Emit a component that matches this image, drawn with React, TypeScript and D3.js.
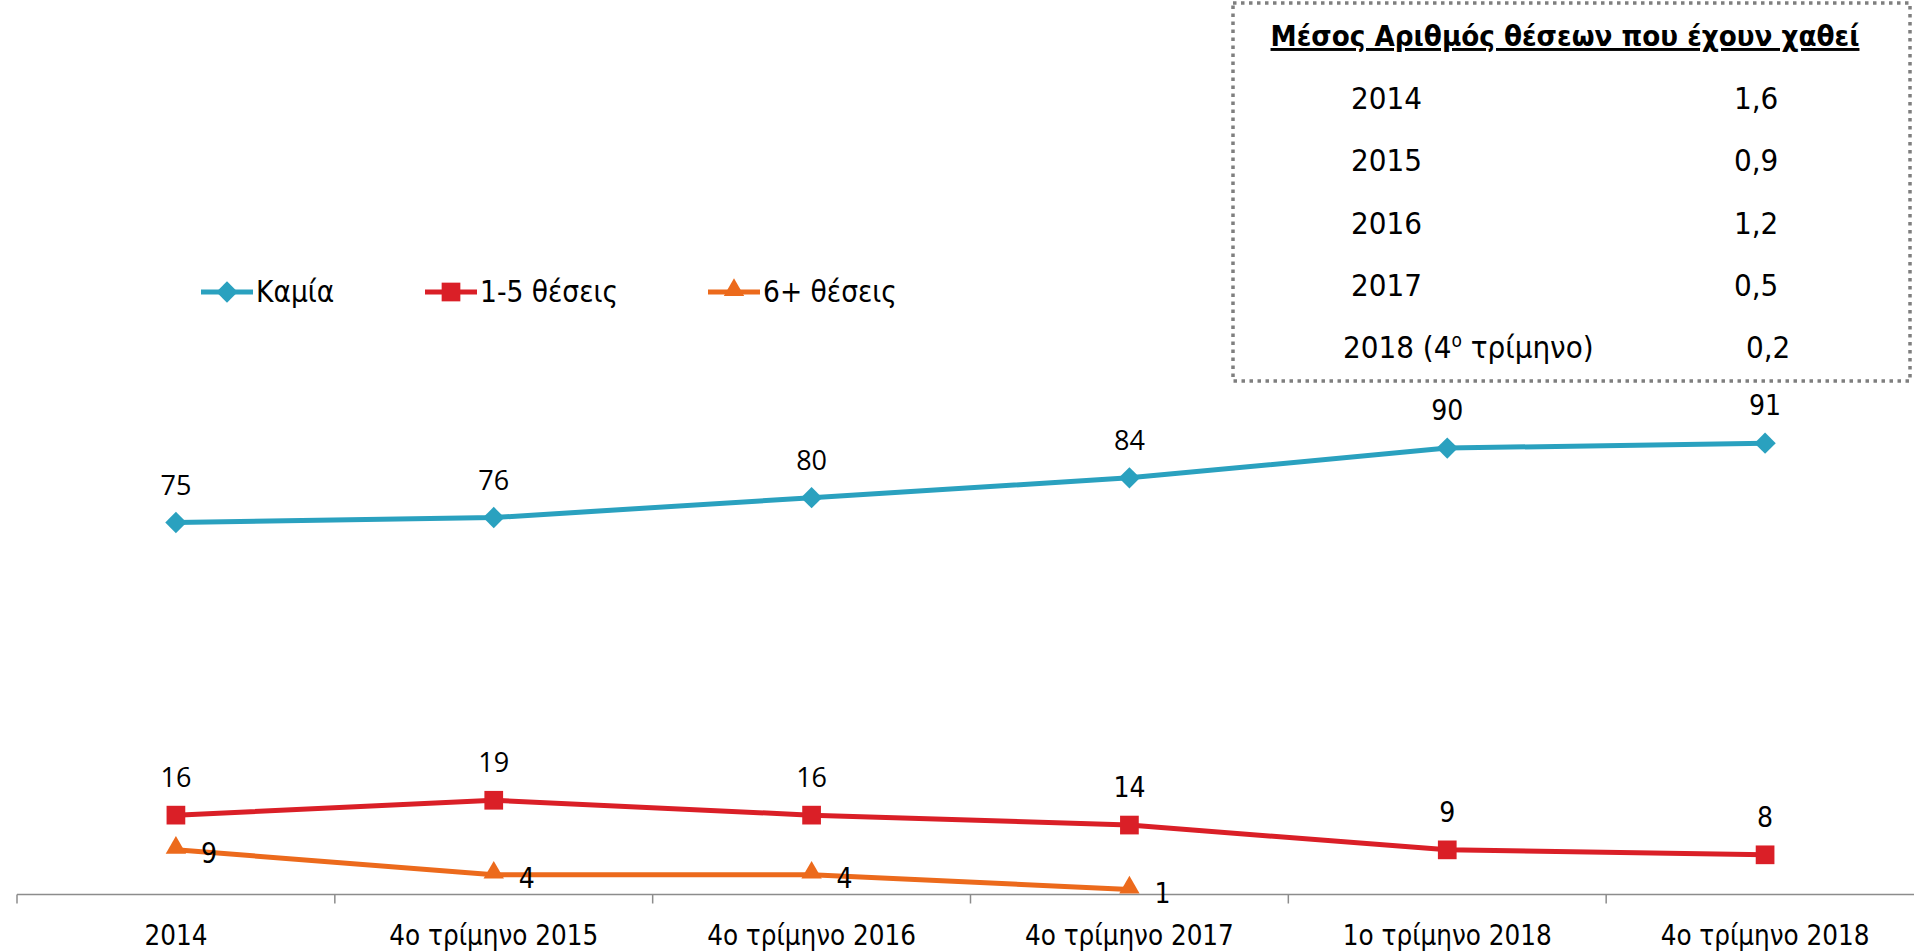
import React from "react";
import * as d3 from "d3";

// chart data
const categories = [
	"2014",
	"4ο τρίμηνο 2015",
	"4ο τρίμηνο 2016",
	"4ο τρίμηνο 2017",
	"1ο τρίμηνο 2018",
	"4ο τρίμηνο 2018",
];
const kamia = [75, 76, 80, 84, 90, 91];
const fewSeats = [16, 19, 16, 14, 9, 8];
const manySeats = [9, 4, 4, 1, null, null];

// side table
const tableTitle = "Μέσος Αριθμός θέσεων που έχουν χαθεί";
const tableYears = ["2014", "2015", "2016", "2017", "2018"];
const tableValues = ["1,6", "0,9", "1,2", "0,5", "0,2"];

const width = 1914;
const height = 951;
const narrow = "'DejaVu Sans Condensed', 'Liberation Sans Narrow', sans-serif";
const wide = "'Open Sans', 'Noto Sans', sans-serif";

const series = [
	{ name: "Καμία", values: kamia, color: "#2aa1bf", symbol: d3.symbolDiamond2, size: 290, labelPos: "top", wideLabels: 4 },
	{ name: "1-5 θέσεις", values: fewSeats, color: "#da1f27", symbol: d3.symbolSquare, size: 350, labelPos: "top", wideLabels: 3 },
	{ name: "6+ θέσεις", values: manySeats, color: "#ec6a1c", symbol: d3.symbolTriangle, size: 180, labelPos: "right", wideLabels: 0 },
];

const App = () => {
	const xScale = d3.scaleBand().domain(categories).range([17, 1924]).padding(0);
	const bw = xScale.bandwidth();
	const cx = (c) => xScale(c) + bw / 2;
	const yScale = d3.scaleLinear().domain([0, 100]).range([894.5, 398.5]);
	const y0 = yScale(0);

	const legendX = [201, 425, 708];

	return (
		<svg
			width={width}
			height={height}
			style={{ position: "absolute", left: 0, top: 0, background: "#fff" }}
		>
			{/* axis */}
			<line x1={17} x2={width} y1={y0} y2={y0} stroke="#8c8c8c" strokeWidth={1.5} />
			{d3.range(categories.length + 1).map((i) => {
				const x = 17 + i * bw;
				return <line key={i} x1={x} x2={x} y1={y0} y2={y0 + 9} stroke="#8c8c8c" strokeWidth={1.5} />;
			})}
			{categories.map((c) => (
				<text key={c} x={cx(c)} y={945} textAnchor="middle" fontFamily={narrow} fontSize={27.5} fill="#000">
					{c}
				</text>
			))}

			{/* lines */}
			{series.map((s) => {
				const pts = categories
					.map((c, i) => [cx(c), s.values[i]])
					.filter((p) => p[1] != null)
					.map(([x, v]) => [x, yScale(v)]);
				const sym = d3.symbol().type(s.symbol).size(s.size)();
				return (
					<g key={s.name}>
						<path d={d3.line()(pts)} fill="none" stroke={s.color} strokeWidth={5} />
						{pts.map(([x, y], i) => (
							<path key={i} d={sym} transform={`translate(${x},${y + (s.labelPos === "right" ? -2 : 0)})`} fill={s.color} />
						))}
						{pts.map(([x, y], i) => {
							const isWide = i < s.wideLabels;
							return s.labelPos === "top" ? (
								<text
									key={"l" + i}
									x={x}
									y={y - 28}
									textAnchor="middle"
									fontFamily={isWide ? wide : narrow}
									fontSize={isWide ? 27 : 28}
								>
									{s.values[i]}
								</text>
							) : (
								<text key={"l" + i} x={x + 25} y={y + 13} fontFamily={narrow} fontSize={28}>
									{s.values[i]}
								</text>
							);
						})}
					</g>
				);
			})}

			{/* legend */}
			{series.map((s, i) => {
				const lx = legendX[i];
				return (
					<g key={"lg" + s.name}>
						<line x1={lx} x2={lx + 52} y1={292} y2={292} stroke={s.color} strokeWidth={5} />
						<path d={d3.symbol().type(s.symbol).size(s.size)()} transform={`translate(${lx + 26},${i === 2 ? 290 : 292})`} fill={s.color} />
						<text x={lx + 55} y={302} fontFamily={narrow} fontSize={29.5}>
							{s.name}
						</text>
					</g>
				);
			})}

			{/* side table */}
			<rect x={1233} y={3} width={677} height={378} fill="#fff" stroke="#7f7f7f" strokeWidth={3.5} strokeDasharray="3.5 4.5" />
			<text x={1565} y={46} textAnchor="middle" fontFamily={narrow} fontWeight="bold" fontSize={29.2} textDecoration="underline">
				{tableTitle}
			</text>
			{tableYears.map((yr, i) => (
				<g key={yr}>
					<text x={i === 4 ? 1343 : 1351} y={109 + i * 62.3} fontFamily={narrow} fontSize={31}>
						{yr}
						{i === 4 ? (
							<>
								{" (4"}
								<tspan baselineShift="super" fontSize={19}>ο</tspan>
								{" τρίμηνο)"}
							</>
						) : null}
					</text>
					<text x={i === 4 ? 1746 : 1734} y={109 + i * 62.3} fontFamily={narrow} fontSize={31}>
						{tableValues[i]}
					</text>
				</g>
			))}
		</svg>
	);
};

export default App;
